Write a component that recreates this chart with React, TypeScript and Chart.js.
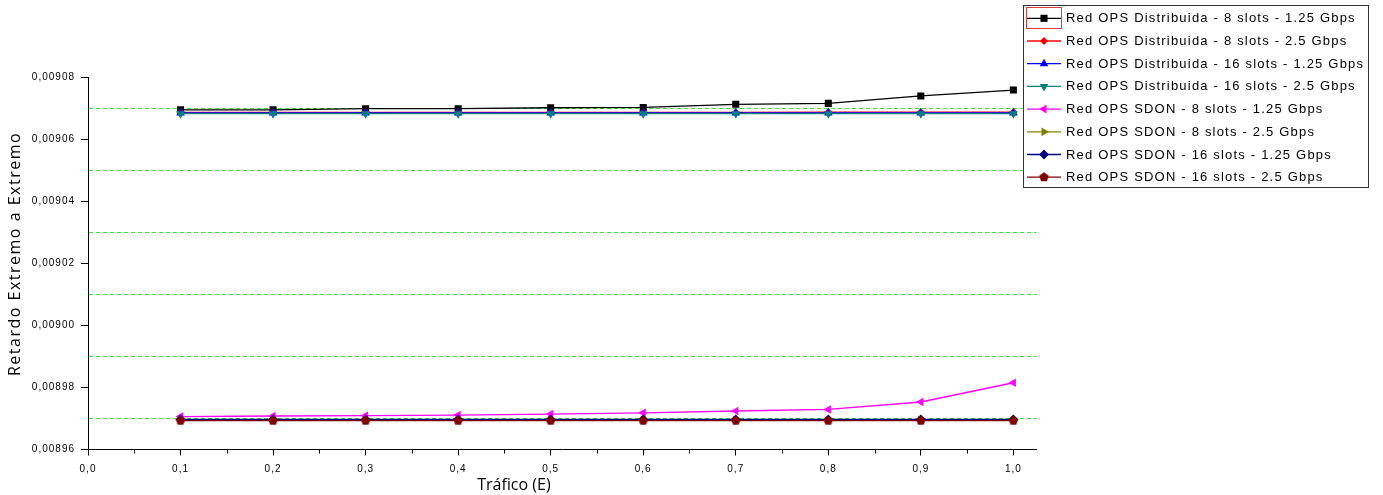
import React, { useEffect, useRef } from 'react';
import { Chart, registerables } from 'chart.js';
import { drawPoint } from 'chart.js/helpers';

Chart.register(...registerables);

// ---------- data ----------
const xValues = [0.1, 0.2, 0.3, 0.4, 0.5, 0.6, 0.7, 0.8, 0.9, 1.0];

const seriesLabels = [
  'Red OPS Distribuida - 8 slots - 1.25 Gbps',
  'Red OPS Distribuida - 8 slots - 2.5 Gbps',
  'Red OPS Distribuida - 16 slots - 1.25 Gbps',
  'Red OPS Distribuida - 16 slots - 2.5 Gbps',
  'Red OPS SDON - 8 slots - 1.25 Gbps',
  'Red OPS SDON - 8 slots - 2.5 Gbps',
  'Red OPS SDON - 16 slots - 1.25 Gbps',
  'Red OPS SDON - 16 slots - 2.5 Gbps',
];

const dist8_125 = [0.0090694, 0.0090694, 0.0090698, 0.0090698, 0.0090701, 0.0090702, 0.0090712, 0.0090715, 0.0090739, 0.0090758];
const dist8_25 = [0.0090686, 0.0090686, 0.0090686, 0.0090686, 0.0090686, 0.0090686, 0.0090686, 0.0090687, 0.0090687, 0.0090687];
const dist16_125 = [0.0090684, 0.0090684, 0.0090684, 0.0090684, 0.0090684, 0.0090684, 0.0090684, 0.0090684, 0.0090684, 0.0090684];
const dist16_25 = [0.0090682, 0.0090682, 0.0090682, 0.0090682, 0.0090682, 0.0090682, 0.0090682, 0.0090682, 0.0090682, 0.0090682];
const sdon8_125 = [0.0089706, 0.0089708, 0.0089709, 0.0089711, 0.0089714, 0.0089718, 0.0089724, 0.0089729, 0.0089753, 0.0089815];
const sdon8_25 = [0.0089695, 0.0089695, 0.0089695, 0.0089695, 0.0089695, 0.0089695, 0.0089695, 0.0089695, 0.0089695, 0.0089695];
const sdon16_125 = [0.0089697, 0.0089697, 0.0089697, 0.0089697, 0.0089697, 0.0089697, 0.0089697, 0.0089697, 0.0089697, 0.0089697];
const sdon16_25 = [0.0089693, 0.0089693, 0.0089693, 0.0089693, 0.0089693, 0.0089693, 0.0089693, 0.0089693, 0.0089693, 0.0089693];

const seriesValues = [dist8_125, dist8_25, dist16_125, dist16_25, sdon8_125, sdon8_25, sdon16_125, sdon16_25];

const xTickValues = [0, 0.1, 0.2, 0.3, 0.4, 0.5, 0.6, 0.7, 0.8, 0.9, 1.0];
const xTickLabels = ['0,0', '0,1', '0,2', '0,3', '0,4', '0,5', '0,6', '0,7', '0,8', '0,9', '1,0'];

const yTickValues = [0.00896, 0.00898, 0.009, 0.00902, 0.00904, 0.00906, 0.00908];
const yTickLabels = ['0,00896', '0,00898', '0,00900', '0,00902', '0,00904', '0,00906', '0,00908'];
const yGridValues = [0.00897, 0.00899, 0.00901, 0.00903, 0.00905, 0.00907];

const xTitle = 'Tráfico (E)';
const yTitle = 'Retardo Extremo a Extremo';

// ---------- styles ----------
const seriesColors = ['#000000', '#ff0000', '#0000ff', '#008080', '#ff00ff', '#808000', '#000080', '#800000'];
const seriesRotations = [0, 0, 0, 180, -90, 90, 0, 0];
const seriesRadius = [5, 4, 5, 5, 5, 5, 5, 5];
const GRID_GREEN = '#2fee2f';

function makePentagon(color: string, r: number) {
  const c = document.createElement('canvas');
  const s = Math.ceil(r * 2 + 2);
  c.width = s;
  c.height = s;
  const g = c.getContext('2d')!;
  g.fillStyle = color;
  g.beginPath();
  for (let k = 0; k < 5; k++) {
    const a = -Math.PI / 2 + (k * 2 * Math.PI) / 5;
    g.lineTo(s / 2 + r * Math.cos(a), s / 2 + r * Math.sin(a));
  }
  g.closePath();
  g.fill();
  return c;
}

const yAllTicks = [
  ...yTickValues.map((v, i) => ({ value: v, label: yTickLabels[i], major: true })),
  ...yGridValues.map((v) => ({ value: v, label: '', major: false })),
].sort((a, b) => a.value - b.value);

export default function App() {
  const canvasRef = useRef<HTMLCanvasElement | null>(null);

  useEffect(() => {
    const canvas = canvasRef.current;
    if (!canvas) return;
    const pentagon = makePentagon('#800000', 5);
    const pointStyles: any[] = ['rect', 'rectRot', 'triangle', 'triangle', 'triangle', 'triangle', 'rectRot', pentagon];

    const datasets = seriesValues.map((vals, i) => ({
      label: seriesLabels[i],
      data: vals.map((v, j) => ({ x: xValues[j], y: v })),
      borderColor: seriesColors[i],
      backgroundColor: seriesColors[i],
      borderWidth: 1.3,
      pointStyle: pointStyles[i],
      pointRotation: seriesRotations[i],
      pointRadius: seriesRadius[i],
      pointBorderWidth: 0,
      pointBackgroundColor: seriesColors[i],
      tension: 0,
      order: -i,
    }));

    const spacingPlugin = {
      id: 'spacing',
      beforeDraw(chart: any) {
        (chart.ctx as any).letterSpacing = '1px';
      },
    };

    const decorPlugin = {
      id: 'decor',
      afterDraw(chart: any) {
        const ctx = chart.ctx as CanvasRenderingContext2D;
        const xs = chart.scales.x;
        const area = chart.chartArea;
        ctx.save();
        // minor x ticks
        ctx.strokeStyle = '#000';
        ctx.lineWidth = 1;
        for (let i = 0; i < xTickValues.length - 1; i++) {
          const px = Math.round(xs.getPixelForValue((xTickValues[i] + xTickValues[i + 1]) / 2)) + 0.5;
          ctx.beginPath();
          ctx.moveTo(px, area.bottom);
          ctx.lineTo(px, area.bottom + 4);
          ctx.stroke();
        }
        // axis titles
        ctx.fillStyle = '#000';
        ctx.font = '16px "Open Sans", "Liberation Sans", sans-serif';
        ctx.textAlign = 'center';
        ctx.textBaseline = 'middle';
        (ctx as any).letterSpacing = '0px';
        ctx.fillText(xTitle, area.left + (area.right - area.left) * 0.449, area.bottom + 36);
        ctx.save();
        (ctx as any).letterSpacing = '1.5px';
        ctx.translate(15, area.top + (area.bottom - area.top) * 0.475);
        ctx.rotate(-Math.PI / 2);
        ctx.fillText(yTitle, 0, 0);
        ctx.restore();

        // legend box
        const bx = 1023.5, by = 5.5, bw = 345, bh = 182;
        ctx.fillStyle = '#ffffff';
        ctx.fillRect(bx, by, bw, bh);
        ctx.strokeStyle = '#333';
        ctx.lineWidth = 1;
        ctx.strokeRect(bx, by, bw, bh);
        // selection marker around first sample
        ctx.strokeStyle = '#e03c3c';
        ctx.strokeRect(1026.5, 7.5, 35, 21);
        ctx.font = '13px "Liberation Sans", Arial, sans-serif';
        (ctx as any).letterSpacing = '1.2px';
        ctx.textAlign = 'left';
        ctx.textBaseline = 'middle';
        for (let i = 0; i < seriesLabels.length; i++) {
          const cy = 18.3 + i * 22.7;
          ctx.strokeStyle = seriesColors[i];
          ctx.lineWidth = 1.3;
          ctx.beginPath();
          ctx.moveTo(1027, cy);
          ctx.lineTo(1061, cy);
          ctx.stroke();
          ctx.fillStyle = seriesColors[i];
          drawPoint(ctx, { pointStyle: pointStyles[i], rotation: seriesRotations[i], radius: seriesRadius[i], borderWidth: 0 } as any, 1044, cy);
          ctx.fillStyle = '#000';
          ctx.fillText(seriesLabels[i], 1066, cy + 0.5);
        }
        ctx.restore();
        (ctx as any).letterSpacing = '0px';
      },
    };

    const chart = new Chart(canvas, {
      type: 'line',
      data: { datasets: datasets as any },
      plugins: [spacingPlugin, decorPlugin],
      options: {
        animation: false,
        responsive: true,
        maintainAspectRatio: false,
        devicePixelRatio: 1,
        layout: { padding: { top: 77, right: 346.5, left: 0, bottom: 0 } },
        plugins: { legend: { display: false }, tooltip: { enabled: false } },
        scales: {
          x: {
            type: 'linear',
            min: 0,
            max: 1.025,
            afterBuildTicks: (scale: any) => {
              scale.ticks = xTickValues.map((v) => ({ value: v }));
            },
            afterFit: (scale: any) => {
              scale.height = 45.5;
            },
            ticks: {
              autoSkip: false,
              maxRotation: 0,
              padding: 8,
              color: '#000',
              font: { size: 10, family: '"Liberation Sans", Arial, sans-serif' },
              callback: (_v: any, i: number) => xTickLabels[i],
            },
            grid: { drawOnChartArea: false, color: '#000', tickLength: 6, tickColor: '#000' },
            border: { color: '#000', width: 1 },
          },
          y: {
            type: 'linear',
            min: 0.00896,
            max: 0.00908,
            afterBuildTicks: (scale: any) => {
              scale.ticks = yAllTicks.map((t) => ({ value: t.value }));
            },
            afterFit: (scale: any) => {
              scale.width = 88;
            },
            ticks: {
              autoSkip: false,
              padding: 6,
              color: '#000',
              font: { size: 10, family: '"Liberation Sans", Arial, sans-serif' },
              callback: (_v: any, i: number) => yAllTicks[i].label,
            },
            grid: {
              color: (c: any) => (yAllTicks[c.index] && !yAllTicks[c.index].major ? GRID_GREEN : 'rgba(0,0,0,0)'),
              tickColor: (c: any) => (yAllTicks[c.index] && yAllTicks[c.index].major ? '#000' : 'rgba(0,0,0,0)'),
              tickLength: 7,
              lineWidth: 1,
            },
            border: { color: '#000', width: 1, dash: [4, 3] },
          },
        },
      },
    });
    return () => chart.destroy();
  }, []);

  return (
    <div style={{ position: 'absolute', left: 0, top: 0, width: 1383, height: 495, background: '#fff' }}>
      <canvas ref={canvasRef} />
    </div>
  );
}
